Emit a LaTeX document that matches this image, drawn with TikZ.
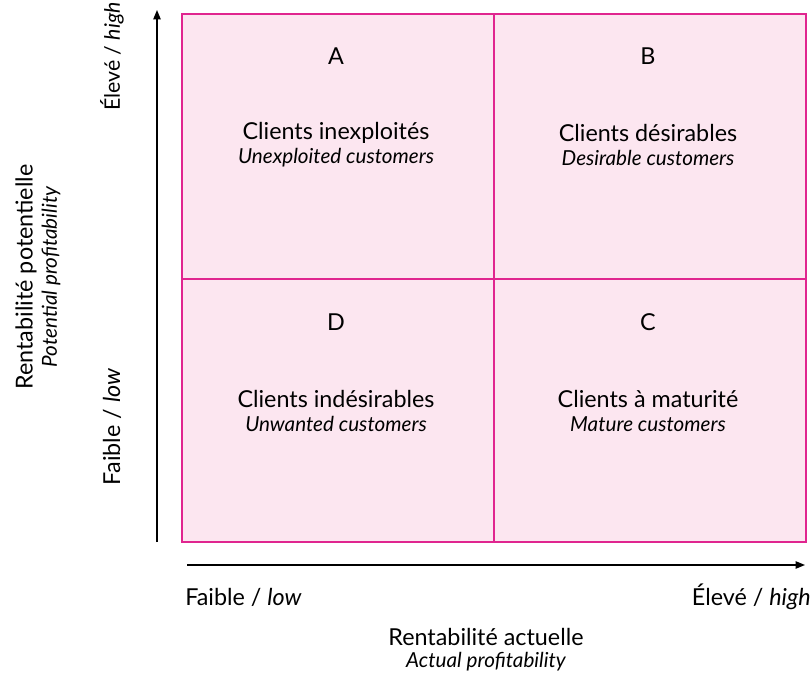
\documentclass[tikz,border=0pt]{standalone}
\usepackage{fontspec}
\setmainfont{Lato}
\usetikzlibrary{arrows.meta}
\definecolor{cellfill}{HTML}{FCE6F0}
\definecolor{cellline}{HTML}{E0258F}
\tikzset{
  cell/.style={draw=cellline, line width=1.2pt, fill=cellfill, minimum width=234pt, minimum height=198.75pt, inner sep=0pt, anchor=north west},
  lbl/.style={font=\fontsize{17.5}{20}\selectfont, inner sep=0pt},
  sub/.style={font=\fontsize{15.5}{18}\selectfont\itshape, inner sep=0pt},
  axis/.style={line width=1pt, -{Triangle[length=7pt,width=5.5pt]}},
}
\begin{document}
\begin{tikzpicture}[x=0.75pt,y=-0.75pt]
\useasboundingbox (0,0) rectangle (811,675);
% cells
\node[cell] (tl) at (181,13) {};
\node[cell] (tr) at (493,13) {};
\node[cell, minimum height=197.25pt] (bl) at (181,278) {};
\node[cell, minimum height=197.25pt] (br) at (493,278) {};
% letters
\node[lbl] (la) at (336,56) {A};
\node[lbl] (lb) at (648,56) {B};
\node[lbl] (ld) at (336,322) {D};
\node[lbl] (lc) at (648,322) {C};
% cell texts
\node[lbl] (ta) at (336,133) {Clients inexploités};
\node[sub] (sa) at (336,158) {Unexploited customers};
\node[lbl] (tb) at (648,133) {Clients désirables};
\node[sub] (sb) at (648,158) {Desirable customers};
\node[lbl] (td) at (336,399) {Clients indésirables};
\node[sub] (sd) at (336,424) {Unwanted customers};
\node[lbl] (tc) at (648,399) {Clients à maturité};
\node[sub] (sc) at (648,424) {Mature customers};
% axes
\coordinate (y0) at (157,542);
\coordinate (y1) at (157,10);
\coordinate (x0) at (187,565);
\coordinate (x1) at (805,565);
\draw[axis] (y0) -- (y1);
\draw[axis] (x0) -- (x1);
% y labels
\node[lbl, rotate=90, anchor=east, font=\fontsize{16}{19}\selectfont] (yh) at (112,2) {Élevé / {\itshape high}};
\node[lbl, rotate=90] (yl) at (112,427) {Faible / {\itshape low}};
\node[lbl, rotate=90] (yt) at (26,277) {Rentabilité potentielle};
\node[sub, rotate=90] (ys) at (51,277) {Potential profitability};
% x labels
\node[lbl, anchor=west] (xl) at (185,597) {Faible / {\itshape low}};
\node[lbl, anchor=east] (xh) at (811,597) {Élevé / {\itshape high}};
\node[lbl] (xt) at (486,637) {Rentabilité actuelle};
\node[sub] (xs) at (486,662) {Actual profitability};
\end{tikzpicture}
\end{document}
